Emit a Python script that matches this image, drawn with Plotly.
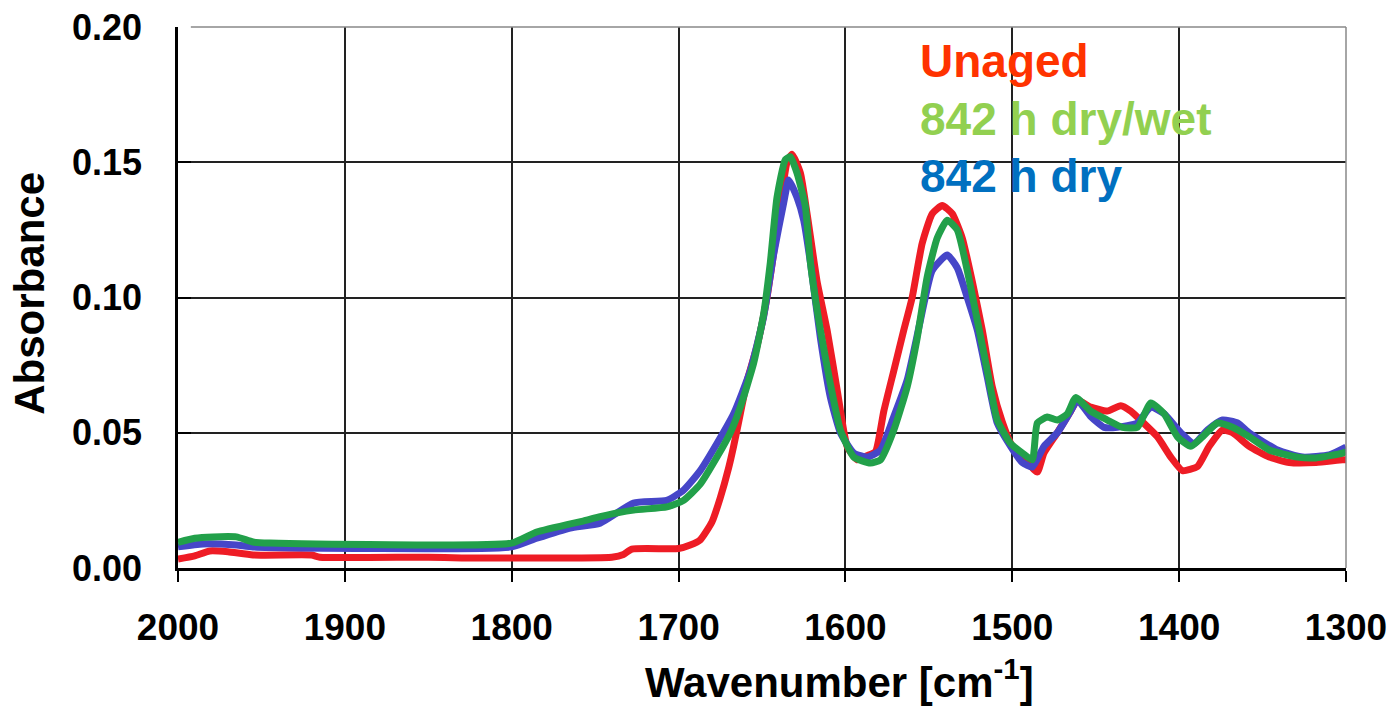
import plotly.graph_objects as go

# ---- data (wavenumber [cm-1], absorbance) ----
unaged_wn = [2000, 1990, 1981, 1970, 1955, 1920, 1915, 1850, 1830, 1800, 1740, 1733, 1728, 1700, 1693, 1687,
             1680, 1675, 1670, 1667, 1663, 1659, 1653, 1647, 1641, 1635, 1632, 1627, 1623, 1617, 1611, 1605,
             1599, 1593, 1587, 1582, 1577, 1571, 1565, 1560, 1554, 1548, 1542, 1536, 1530, 1524, 1518, 1512,
             1506, 1500, 1491, 1485, 1481, 1473, 1465, 1461, 1453, 1443, 1435, 1429, 1422, 1413, 1405, 1398,
             1389, 1382, 1374, 1368, 1358, 1346, 1334, 1318, 1302, 1300]
unaged_abs = [0.0033, 0.0045, 0.0063, 0.0060, 0.0048, 0.0048, 0.0040, 0.0040, 0.0037, 0.0037, 0.0040, 0.0050,
              0.0070, 0.0072, 0.0085, 0.0104, 0.017, 0.026, 0.037, 0.045, 0.057, 0.069, 0.082, 0.100, 0.125,
              0.150, 0.153, 0.146, 0.131, 0.106, 0.088, 0.066, 0.045, 0.040, 0.0415, 0.043, 0.058, 0.073,
              0.088, 0.100, 0.120, 0.131, 0.134, 0.131, 0.122, 0.106, 0.088, 0.067, 0.054, 0.045, 0.039,
              0.0355, 0.0425, 0.050, 0.058, 0.062, 0.0595, 0.058, 0.060, 0.058, 0.054, 0.0485, 0.041, 0.036,
              0.0375, 0.045, 0.051, 0.050, 0.045, 0.041, 0.039, 0.039, 0.040, 0.040]

drywet_wn = [2000, 1990, 1979, 1965, 1955, 1945, 1800, 1785, 1755, 1747, 1727, 1707, 1697, 1687, 1677, 1669,
             1663, 1655, 1649, 1645, 1641, 1636, 1633, 1629, 1624, 1621, 1615, 1609, 1603, 1595, 1585, 1579,
             1571, 1563, 1557, 1551, 1545, 1539, 1533, 1527, 1521, 1515, 1509, 1501, 1494, 1488, 1485, 1479,
             1473, 1467, 1462, 1453, 1443, 1434, 1425, 1417, 1409, 1401, 1393, 1386, 1377, 1368, 1358, 1346,
             1329, 1318, 1302, 1300]
drywet_abs = [0.0095, 0.011, 0.0115, 0.0115, 0.0096, 0.0092, 0.0092, 0.0133, 0.0177, 0.019, 0.0214, 0.0226,
              0.025, 0.031, 0.041, 0.050, 0.0595, 0.0757, 0.094, 0.113, 0.137, 0.151, 0.152, 0.146, 0.1336,
              0.113, 0.088, 0.068, 0.051, 0.041, 0.0388, 0.040, 0.051, 0.067, 0.085, 0.1076, 0.122, 0.1286,
              0.125, 0.110, 0.0917, 0.073, 0.0547, 0.046, 0.0425, 0.040, 0.0536, 0.0558, 0.0547, 0.057, 0.063,
              0.058, 0.0547, 0.052, 0.052, 0.061, 0.057, 0.0485, 0.045, 0.0485, 0.0536, 0.052, 0.0485, 0.0436,
              0.041, 0.0407, 0.0425, 0.043]

dry_wn = [2000, 1985, 1965, 1955, 1800, 1785, 1765, 1747, 1727, 1707, 1697, 1687, 1677, 1667, 1657, 1649,
          1643, 1637, 1634, 1629, 1625, 1621, 1615, 1609, 1603, 1595, 1587, 1579, 1571, 1563, 1555, 1548,
          1539, 1533, 1527, 1521, 1515, 1509, 1501, 1494, 1488, 1481, 1473, 1465, 1461, 1453, 1445, 1437,
          1425, 1417, 1409, 1399, 1391, 1383, 1374, 1365, 1358, 1341, 1326, 1310, 1300]
dry_abs = [0.0078, 0.0089, 0.0085, 0.0078, 0.0078, 0.011, 0.0148, 0.0166, 0.024, 0.025, 0.0288, 0.036, 0.046,
           0.057, 0.073, 0.093, 0.116, 0.135, 0.1434, 0.137, 0.1286, 0.113, 0.085, 0.063, 0.050, 0.0425,
           0.041, 0.0436, 0.056, 0.0695, 0.0917, 0.110, 0.1157, 0.111, 0.100, 0.088, 0.0706, 0.0536, 0.045,
           0.039, 0.0373, 0.045, 0.050, 0.058, 0.062, 0.056, 0.052, 0.052, 0.0536, 0.0595, 0.057, 0.050,
           0.046, 0.051, 0.0547, 0.0536, 0.050, 0.0436, 0.041, 0.0418, 0.0447]

x_ticks = [2000, 1900, 1800, 1700, 1600, 1500, 1400, 1300]
y_ticks = [0.00, 0.05, 0.10, 0.15, 0.20]
y_tick_text = ["0.00", "0.05", "0.10", "0.15", "0.20"]

FONT = "Liberation Sans, Arial, sans-serif"

fig = go.Figure()
fig.add_trace(go.Scatter(x=unaged_wn, y=unaged_abs, mode="lines", name="Unaged",
                         line=dict(color="#EE1C25", width=7, shape="spline", smoothing=0.5)))
fig.add_trace(go.Scatter(x=dry_wn, y=dry_abs, mode="lines", name="842 h dry",
                         line=dict(color="#4646C8", width=7, shape="spline", smoothing=0.5)))
fig.add_trace(go.Scatter(x=drywet_wn, y=drywet_abs, mode="lines", name="842 h dry/wet",
                         line=dict(color="#22A04A", width=7, shape="spline", smoothing=0.5)))

fig.update_layout(
    width=1394, height=712,
    margin=dict(l=178, r=48, t=27, b=144),
    paper_bgcolor="white", plot_bgcolor="white",
    showlegend=False,
    font=dict(family=FONT, color="black"),
)
fig.update_xaxes(
    range=[2000, 1300], tickvals=x_ticks, ticktext=[str(v) for v in x_ticks],
    showgrid=True, gridcolor="#222222", gridwidth=1.5,
    showline=True, linecolor="black", linewidth=2.5,
    ticks="outside", ticklen=11, tickwidth=2, tickcolor="black",
    tickfont=dict(family=FONT, size=37, color="black", weight="bold"),
    ticklabelstandoff=14, zeroline=False, automargin=False,
)
fig.update_yaxes(
    range=[0, 0.2], tickvals=y_ticks, ticktext=y_tick_text,
    showgrid=True, gridcolor="#222222", gridwidth=1.5,
    showline=True, linecolor="black", linewidth=2.5,
    ticks="inside", ticklen=13, tickwidth=2, tickcolor="black",
    tickfont=dict(family=FONT, size=36, color="black", weight="bold"),
    ticklabelstandoff=26, zeroline=False, automargin=False,
)

# top and right frame (thin gray)
fig.add_shape(type="line", xref="paper", yref="paper", x0=0.011, x1=1, y0=1, y1=1,
              line=dict(color="#888888", width=1.5), layer="above")
fig.add_shape(type="line", xref="paper", yref="paper", x0=1, x1=1, y0=0, y1=1,
              line=dict(color="#888888", width=1.5), layer="above")

# axis titles
fig.add_annotation(text="Wavenumber [cm<sup>-1</sup>]", xref="paper", yref="paper",
                   x=0.566, y=-0.205, xanchor="center", yanchor="middle", showarrow=False,
                   font=dict(family=FONT, size=42, color="black", weight="bold"))
fig.add_annotation(text="Absorbance", xref="paper", yref="paper", textangle=-90,
                   x=-0.1267, y=0.507, xanchor="center", yanchor="middle", showarrow=False,
                   font=dict(family=FONT, size=42, color="black", weight="bold"))

# legend texts
legend_items = [("Unaged", "#FF3300", 0.938), ("842 h dry/wet", "#92D050", 0.830), ("842 h dry", "#0070C0", 0.725)]
for txt, col, yy in legend_items:
    fig.add_annotation(text=txt, xref="paper", yref="paper", x=0.6336, y=yy,
                       xanchor="left", yanchor="middle", showarrow=False,
                       font=dict(family=FONT, size=46, color=col, weight="bold"))

fig.write_html("out.html")
